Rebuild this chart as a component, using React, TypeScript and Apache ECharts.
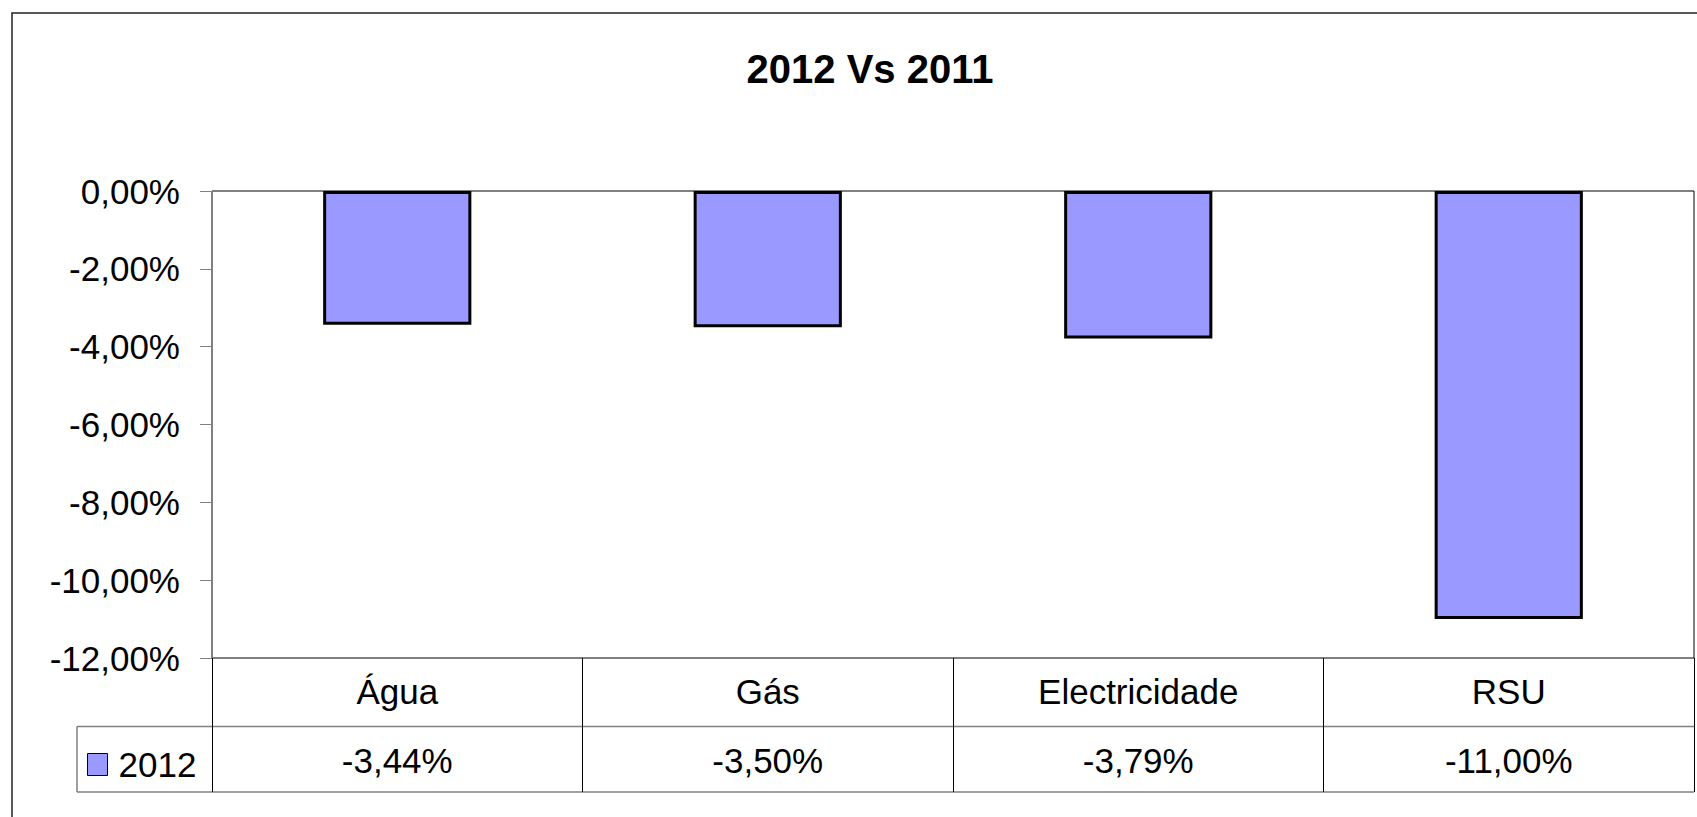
import React, { useEffect, useRef } from "react";
import * as echarts from "echarts";

const categories = ["Água", "Gás", "Electricidade", "RSU"];
const values2012 = [-3.44, -3.5, -3.79, -11.0];
const seriesName = "2012";
const titleText = "2012 Vs 2011";
const yTicks = { min: -12, max: 0, interval: 2 };

const FONT = "'Liberation Sans', Arial, sans-serif";
const fmt = (v: number) => v.toFixed(2).replace(".", ",") + "%";

export default function App() {
  const ref = useRef<HTMLDivElement>(null);
  useEffect(() => {
    if (!ref.current) return;
    const chart = echarts.init(ref.current, undefined, { renderer: "svg" });
    chart.setOption({
      animation: false,
      backgroundColor: "#fff",
      textStyle: { fontFamily: FONT },
      title: {
        text: titleText,
        left: 865,
        textAlign: "center",
        top: 44,
        textStyle: { fontSize: 40, fontWeight: "bold", color: "#000", fontFamily: FONT },
      },
      legend: {
        data: [seriesName],
        left: 82,
        top: 742,
        icon: "rect",
        itemWidth: 20,
        itemHeight: 22,
        textStyle: { fontSize: 35, color: "#000", fontFamily: FONT, padding: [0, 0, 0, 6] },
        itemStyle: { borderColor: "#000", borderWidth: 1 },
      },
      grid: {
        left: 212,
        right: 3,
        top: 191,
        height: 467,
        show: true,
        borderColor: "#000",
        borderWidth: 1,
        backgroundColor: "transparent",
      },
      xAxis: [
        {
          type: "category",
          data: categories,
          position: "bottom",
          axisLine: { show: false, onZero: false },
          axisTick: { show: true, length: 134, lineStyle: { color: "#000", width: 1 } },
          axisLabel: {
            fontSize: 35,
            color: "#000",
            fontFamily: FONT,
            margin: 33,
            verticalAlign: "middle",
          },
          splitLine: { show: false },
        },
        {
          type: "category",
          data: categories,
          position: "bottom",
          axisLine: { show: false, onZero: false },
          axisTick: { show: false },
          axisLabel: {
            fontSize: 35,
            color: "#000",
            fontFamily: FONT,
            margin: 102,
            verticalAlign: "middle",
            formatter: (_v: string, i: number) => fmt(values2012[i]),
          },
          splitLine: { show: false },
        },
      ],
      yAxis: {
        type: "value",
        min: yTicks.min,
        max: yTicks.max,
        interval: yTicks.interval,
        axisLine: { show: true, lineStyle: { color: "#808080", width: 1 } },
        axisTick: { show: true, inside: false, length: 12, lineStyle: { color: "#808080" } },
        axisLabel: {
          fontSize: 35,
          color: "#000",
          fontFamily: FONT,
          margin: 32,
          formatter: (v: number) => fmt(v),
        },
        splitLine: { show: false },
      },
      series: [
        {
          name: seriesName,
          type: "bar",
          data: values2012,
          barWidth: "40%",
          itemStyle: { color: "#9999FF", borderColor: "#000", borderWidth: 3 },
        },
      ],
      graphic: [
        {
          type: "rect",
          shape: { x: 12, y: 13, width: 1700, height: 820 },
          style: { fill: "none", stroke: "#222", lineWidth: 1.5 },
          silent: true,
          z: 0,
        },
        {
          type: "line",
          shape: { x1: 77, y1: 726.5, x2: 1694, y2: 726.5 },
          style: { stroke: "#808080", lineWidth: 1.5 },
          silent: true,
        },
        {
          type: "line",
          shape: { x1: 77, y1: 792, x2: 1694, y2: 792 },
          style: { stroke: "#808080", lineWidth: 1.5 },
          silent: true,
        },
        {
          type: "line",
          shape: { x1: 77, y1: 726.5, x2: 77, y2: 792 },
          style: { stroke: "#808080", lineWidth: 1.5 },
          silent: true,
        },
      ],
    });
    return () => chart.dispose();
  }, []);
  return (
    <div
      ref={ref}
      style={{ position: "fixed", left: 0, top: 0, width: 1697, height: 817 }}
    />
  );
}
